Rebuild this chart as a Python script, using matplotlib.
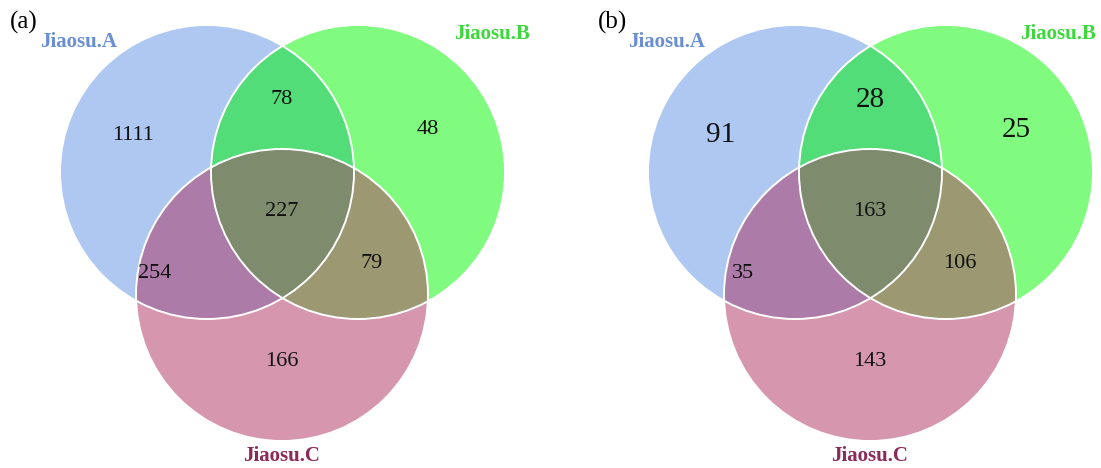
import numpy as np
import matplotlib.pyplot as plt
from matplotlib.patches import Circle, Polygon

plt.rcParams['font.family'] = ['Liberation Serif', 'DejaVu Serif']

# 数据
panels = ['(a)', '(b)']
set_names = ['Jiaosu.A', 'Jiaosu.B', 'Jiaosu.C']
# order: A only, B only, C only, AB, AC, BC, ABC
counts_a = [1111, 48, 166, 78, 254, 79, 227]
counts_b = [91, 25, 143, 28, 35, 106, 163]

# 颜色
fill_colors = {'A': '#aec8f2', 'B': '#80fb80', 'C': '#d596ae',
               'AB': '#53dd78', 'AC': '#ad7ba8', 'BC': '#9b9872', 'ABC': '#7e8b6d'}
name_colors = ['#6a8fd2', '#3cd83c', '#8c2a58']

fig = plt.figure(figsize=(11.01, 4.68), dpi=100)
ax = fig.add_axes([0, 0, 1, 1])
ax.set_xlim(0, 1101)
ax.set_ylim(468, 0)
ax.set_aspect('equal')
ax.axis('off')


def inside(p, c):
    return (p[0] - c[0]) ** 2 + (p[1] - c[1]) ** 2 <= c[2] ** 2 + 1e-6


def region(circles):
    # 圆的交集是凸的 -> 在边界上取点
    pts = []
    t = np.linspace(0, 2 * np.pi, 2000)
    for i, c in enumerate(circles):
        others = [o for j, o in enumerate(circles) if j != i]
        for x, y in zip(c[0] + c[2] * np.cos(t), c[1] + c[2] * np.sin(t)):
            if all(inside((x, y), o) for o in others):
                pts.append((x, y))
    pts = np.array(pts)
    m = pts.mean(axis=0)
    ang = np.arctan2(pts[:, 1] - m[1], pts[:, 0] - m[0])
    return pts[np.argsort(ang)]


def venn(dx, counts, label, big, bx):
    A = (207 + dx, 172, 147)
    B = (358 + dx, 172, 147)
    C = (282 + dx, 295, 146)
    for key, c in zip('ABC', [A, B, C]):
        ax.add_patch(Circle(c[:2], c[2], fc=fill_colors[key], ec='none'))
    for key, cs in [('AB', [A, B]), ('AC', [A, C]), ('BC', [B, C]), ('ABC', [A, B, C])]:
        ax.add_patch(Polygon(region(cs), closed=True, fc=fill_colors[key], ec='none'))
    for c in [A, B, C]:
        ax.add_patch(Circle(c[:2], c[2], fc='none', ec='white', lw=1.4))

    pos = [(133, 135), (428, 130), (282, 362), (282, 100), (155, 273), (372, 263), (282, 212)]
    for i, (n, (x, y)) in enumerate(zip(counts, pos)):
        fs = 21 if i in big else 16
        ax.text(x + dx, y, str(n), fontsize=fs, ha='center', va='center', color='#111111')

    ax.text(10 + dx, 22, label, fontsize=18, ha='left', va='center', color='black')
    ax.text(40 + dx, 42, set_names[0], fontsize=15, fontweight='bold', ha='left', va='center',
            color=name_colors[0])
    ax.text(bx, 34, set_names[1], fontsize=15, fontweight='bold', ha='center', va='center',
            color=name_colors[1])
    ax.text(282 + dx, 456, set_names[2], fontsize=15, fontweight='bold', ha='center', va='center',
            color=name_colors[2])


venn(0, counts_a, panels[0], big=[], bx=492)
venn(588, counts_b, panels[1], big=[0, 1, 3], bx=1058)

fig.savefig('out.png', dpi=100)
